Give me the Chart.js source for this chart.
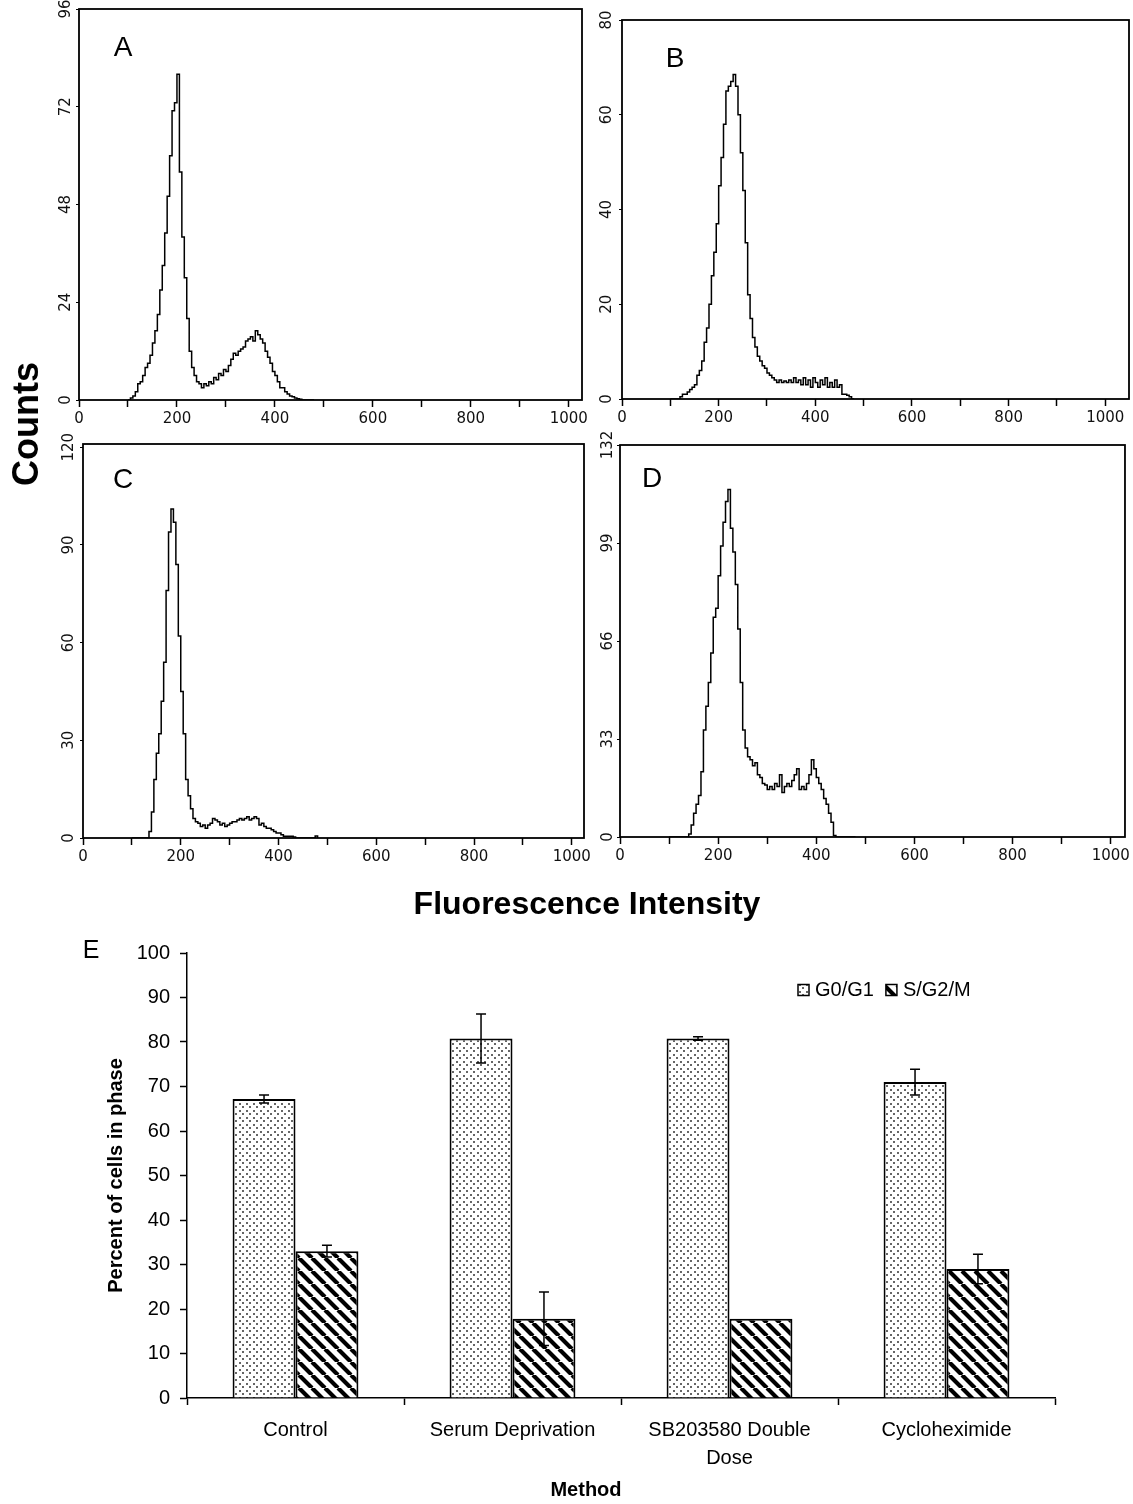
<!DOCTYPE html>
<html>
<head>
<meta charset="utf-8">
<script src="https://cdn.jsdelivr.net/npm/chart.js@4.4.1/dist/chart.umd.min.js"></script>
<style>
  body { margin: 0; background: #fff; }
  #page { position: relative; width: 1133px; height: 1504px; background: #fff; font-family: "Liberation Sans", Arial, sans-serif; color: #000; overflow: hidden; }
  canvas { position: absolute; }
  .txt { position: absolute; white-space: nowrap; transform: translate(-50%, -50%); line-height: 1; }
</style>
</head>
<body>
<div id="page">
  <canvas id="histA" width="556" height="440" style="left:39px;top:0px"></canvas>
  <canvas id="histB" width="553" height="440" style="left:580px;top:0px"></canvas>
  <canvas id="histC" width="556" height="450" style="left:40px;top:430px"></canvas>
  <canvas id="histD" width="553" height="450" style="left:580px;top:430px"></canvas>
  <canvas id="bars" width="1133" height="584" style="left:0px;top:920px"></canvas>

  <div class="txt" style="left:123px;top:47px;font-size:28px">A</div>
  <div class="txt" style="left:675px;top:58px;font-size:28px">B</div>
  <div class="txt" style="left:123px;top:479px;font-size:28px">C</div>
  <div class="txt" style="left:652px;top:478px;font-size:28px">D</div>
  <div class="txt" style="left:26px;top:424px;font-size:36px;font-weight:bold;transform:translate(-50%,-50%) rotate(-90deg)">Counts</div>
  <div class="txt" style="left:587px;top:903px;font-size:32px;font-weight:bold">Fluorescence Intensity</div>
  <div class="txt" style="left:91px;top:949px;font-size:25px">E</div>
  <div class="txt" style="left:586px;top:1489px;font-size:20px;font-weight:bold">Method</div>
</div>
<script>
// histogram channels (fluorescence intensity), shared by the four panels
const channels = [100, 105, 110, 115, 120, 125, 130, 135, 140, 145,
  150, 155, 160, 165, 170, 175, 180, 185, 190, 195,
  200, 205, 210, 215, 220, 225, 230, 235, 240, 245,
  250, 255, 260, 265, 270, 275, 280, 285, 290, 295,
  300, 305, 310, 315, 320, 325, 330, 335, 340, 345,
  350, 355, 360, 365, 370, 375, 380, 385, 390, 395,
  400, 405, 410, 415, 420, 425, 430, 435, 440, 445,
  450, 455, 460, 465, 470, 475, 480];

const countsA = [0, 0.5, 1, 2, 4, 4.5, 6, 8, 9, 11,
  14, 17, 21, 27, 33, 41, 50, 60, 71, 73,
  80, 56, 40, 30, 20, 12, 8, 6, 4.5, 4,
  3, 4, 3.5, 4.5, 4, 5.5, 5, 6.5, 6, 7.5,
  7, 8.5, 10, 11.5, 11, 12, 12.5, 13, 14.5, 15,
  15.5, 14.5, 17, 16, 15, 14, 12, 10.5, 9, 7,
  6, 4.5, 3, 3, 2, 1.5, 1, 0.8, 0.5, 0.3,
  0.2, 0, 0, 0, 0, 0, 0];

const countsB = [0, 0, 0, 0, 0.5, 1, 1, 1.5, 2, 2.5,
  3, 5, 6, 8, 12, 15, 20, 26, 31, 37,
  45, 51, 58, 65, 66, 67, 68.5, 66, 60, 52,
  44, 33, 22, 17, 13, 11, 9, 8, 7, 6.5,
  5.5, 5, 4.5, 4, 3.5, 4, 3.5, 3.8, 3.5, 4,
  3.5, 4.5, 3.5, 4, 3, 4.5, 3, 4, 2.5, 4.5,
  3.5, 2.5, 4, 3, 4.5, 2.5, 3.5, 2.5, 4, 2.5,
  3, 1, 1, 0.8, 0.5, 0, 0];

const countsC = [0, 0, 0, 0, 0, 0, 0, 2, 8, 18,
  26, 32, 42, 54, 76, 94, 101, 97, 84, 62,
  45, 32, 18, 13, 9, 6, 5, 4.5, 3.5, 4,
  3, 4, 4.5, 6, 5.5, 5, 4, 4.5, 3.5, 4,
  4.5, 5, 5, 5.5, 6, 5.5, 6, 6.5, 5.5, 6,
  6.5, 6, 4, 4.5, 3.5, 3, 3, 2.5, 2, 1.5,
  1.5, 1, 0.5, 0.5, 0.5, 0.5, 0.3, 0, 0, 0,
  0, 0, 0, 0, 0, 0.6, 0];

const countsD = [0, 0, 0, 0, 0, 0, 0, 0, 1, 4,
  8, 11, 14, 22, 36, 44, 52, 62, 74, 77,
  88, 98, 106, 113, 117, 104, 96, 85, 70, 52,
  36, 30, 27, 26, 24, 25, 21, 20, 18, 17.5,
  16, 17, 16, 18, 17, 21, 15, 17, 18, 17,
  19, 21, 23, 16, 17, 16, 18, 21, 26, 23,
  20, 18, 16, 13, 11, 8, 5, 0.5, 0, 0,
  0, 0, 0, 0, 0, 0, 0];

// panel E
const methods = ['Control', 'Serum Deprivation', ['SB203580 Double', 'Dose'], 'Cycloheximide'];
const g0g1 = [67.2, 80.8, 80.8, 71];
const g0g1Err = [0.9, 5.5, 0.4, 2.9];
const sg2m = [33, 17.8, 17.8, 29];
const sg2mErr = [1.3, 6, 0, 3.3];

Chart.defaults.font.family = '"Liberation Sans", Arial, sans-serif';
Chart.defaults.color = '#000';

const tickFont = { family: '"DejaVu Sans", sans-serif', size: 15 };

const frame = {
  id: 'frame',
  afterDatasetsDraw(chart) {
    const { left, top, width, height } = chart.chartArea;
    const ctx = chart.ctx;
    ctx.save();
    ctx.strokeStyle = '#000';
    ctx.lineWidth = 1.8;
    ctx.strokeRect(left, top, width, height);
    ctx.restore();
  }
};

function histogram(id, counts, o) {
  return new Chart(document.getElementById(id), {
    type: 'line',
    data: {
      datasets: [{
        data: channels.map((c, i) => ({ x: c, y: counts[i] })),
        borderColor: '#000',
        borderWidth: 1.5,
        pointRadius: 0,
        stepped: true,
        fill: false
      }]
    },
    options: {
      responsive: false,
      animation: false,
      layout: { padding: { top: o.top, right: o.right, left: 0, bottom: 0 } },
      plugins: { legend: { display: false }, tooltip: { enabled: false } },
      scales: {
        x: {
          type: 'linear', min: 0, max: o.xMax,
          afterFit: s => { s.height = o.xHeight; },
          border: { display: false },
          grid: { drawOnChartArea: false, color: '#000', tickLength: 7, tickWidth: 1.5 },
          ticks: {
            stepSize: 100, autoSkip: false, maxRotation: 0, includeBounds: false,
            padding: 3, font: tickFont, color: '#111',
            callback: v => (v % 200 === 0 ? v : '')
          }
        },
        y: {
          min: 0, max: o.yMax,
          afterFit: s => { s.width = o.yWidth; },
          border: { display: false },
          grid: { drawOnChartArea: false, color: '#000', tickLength: 3 },
          ticks: {
            stepSize: o.yStep, includeBounds: false, minRotation: 90, maxRotation: 90,
            crossAlign: 'center', padding: o.yPad, font: tickFont, color: '#111'
          }
        }
      }
    },
    plugins: [frame]
  });
}

histogram('histA', countsA, { top: 9, right: 13, xHeight: 40, yWidth: 40, xMax: 1027, yMax: 96, yStep: 24, yPad: 0 });
histogram('histB', countsB, { top: 20, right: 4, xHeight: 41, yWidth: 42, xMax: 1049, yMax: 80, yStep: 20, yPad: 2 });
histogram('histC', countsC, { top: 14, right: 12, xHeight: 42, yWidth: 43, xMax: 1025, yMax: 121, yStep: 30, yPad: -3 });
histogram('histD', countsD, { top: 15, right: 6, xHeight: 43, yWidth: 40, xMax: 1029, yMax: 132, yStep: 33, yPad: -5 });

function dots() {
  const c = document.createElement('canvas');
  c.width = 7; c.height = 7;
  const g = c.getContext('2d');
  g.fillStyle = '#fff';
  g.fillRect(0, 0, 7, 7);
  g.fillStyle = '#666';
  g.fillRect(1, 1, 2, 2);
  g.fillRect(4, 4, 2, 2);
  return g.createPattern(c, 'repeat');
}

function stripes() {
  const s = 13;
  const c = document.createElement('canvas');
  c.width = s; c.height = s;
  const g = c.getContext('2d');
  g.fillStyle = '#fff';
  g.fillRect(0, 0, s, s);
  g.strokeStyle = '#000';
  g.lineWidth = 4.2;
  g.beginPath();
  for (const k of [-s, 0, s]) {
    g.moveTo(k, 0);
    g.lineTo(k + s, s);
  }
  g.stroke();
  return g.createPattern(c, 'repeat');
}

const errorBars = {
  id: 'errorBars',
  afterDatasetsDraw(chart) {
    const ctx = chart.ctx;
    const y = chart.scales.y;
    ctx.save();
    ctx.strokeStyle = '#000';
    ctx.lineWidth = 1.5;
    chart.data.datasets.forEach((ds, i) => {
      chart.getDatasetMeta(i).data.forEach((bar, j) => {
        const err = ds.errors[j];
        if (!err) return;
        const top = y.getPixelForValue(ds.data[j] + err);
        const bottom = y.getPixelForValue(ds.data[j] - err);
        ctx.beginPath();
        ctx.moveTo(bar.x, top); ctx.lineTo(bar.x, bottom);
        ctx.moveTo(bar.x - 5, top); ctx.lineTo(bar.x + 5, top);
        ctx.moveTo(bar.x - 5, bottom); ctx.lineTo(bar.x + 5, bottom);
        ctx.stroke();
      });
    });
    ctx.restore();
  }
};

// small legend inside the plot, top right
const patternLegend = {
  id: 'patternLegend',
  afterDraw(chart) {
    const ctx = chart.ctx;
    let x = 798;
    const y = 70;
    ctx.save();
    ctx.font = '20px "Liberation Sans", Arial, sans-serif';
    ctx.textBaseline = 'middle';
    chart.data.datasets.forEach(ds => {
      ctx.fillStyle = ds.backgroundColor;
      ctx.fillRect(x, y - 5.5, 11, 11);
      ctx.strokeStyle = '#000';
      ctx.lineWidth = 1.5;
      ctx.strokeRect(x, y - 5.5, 11, 11);
      ctx.fillStyle = '#000';
      ctx.fillText(ds.label, x + 17, y);
      x += 17 + ctx.measureText(ds.label).width + 12;
    });
    ctx.restore();
  }
};

new Chart(document.getElementById('bars'), {
  type: 'bar',
  data: {
    labels: methods,
    datasets: [
      { label: 'G0/G1', data: g0g1, errors: g0g1Err, backgroundColor: dots(), borderColor: '#000', borderWidth: 2 },
      { label: 'S/G2/M', data: sg2m, errors: sg2mErr, backgroundColor: stripes(), borderColor: '#000', borderWidth: 2 }
    ]
  },
  options: {
    responsive: false,
    animation: false,
    datasets: { bar: { categoryPercentage: 0.58, barPercentage: 1 } },
    layout: { padding: { left: 100, right: 78, top: 33, bottom: 0 } },
    plugins: { legend: { display: false }, tooltip: { enabled: false } },
    scales: {
      x: {
        afterFit: s => { s.height = 106; },
        border: { color: '#000', width: 1.5 },
        grid: { drawOnChartArea: false, color: '#000', tickLength: 7, tickWidth: 1.5 },
        ticks: { font: { size: 20, lineHeight: 1.4 }, color: '#000', padding: 11, maxRotation: 0, autoSkip: false }
      },
      y: {
        min: 0, max: 100,
        afterFit: s => { s.width = 87; },
        border: { color: '#000', width: 1.5 },
        grid: { drawOnChartArea: false, color: '#000', tickLength: 7, tickWidth: 1.5 },
        ticks: { stepSize: 10, font: { size: 20 }, color: '#000', padding: 10 },
        title: { display: true, text: 'Percent of cells in phase', font: { size: 20, weight: 'bold' }, color: '#000' }
      }
    }
  },
  plugins: [errorBars, patternLegend]
});
</script>
</body>
</html>
